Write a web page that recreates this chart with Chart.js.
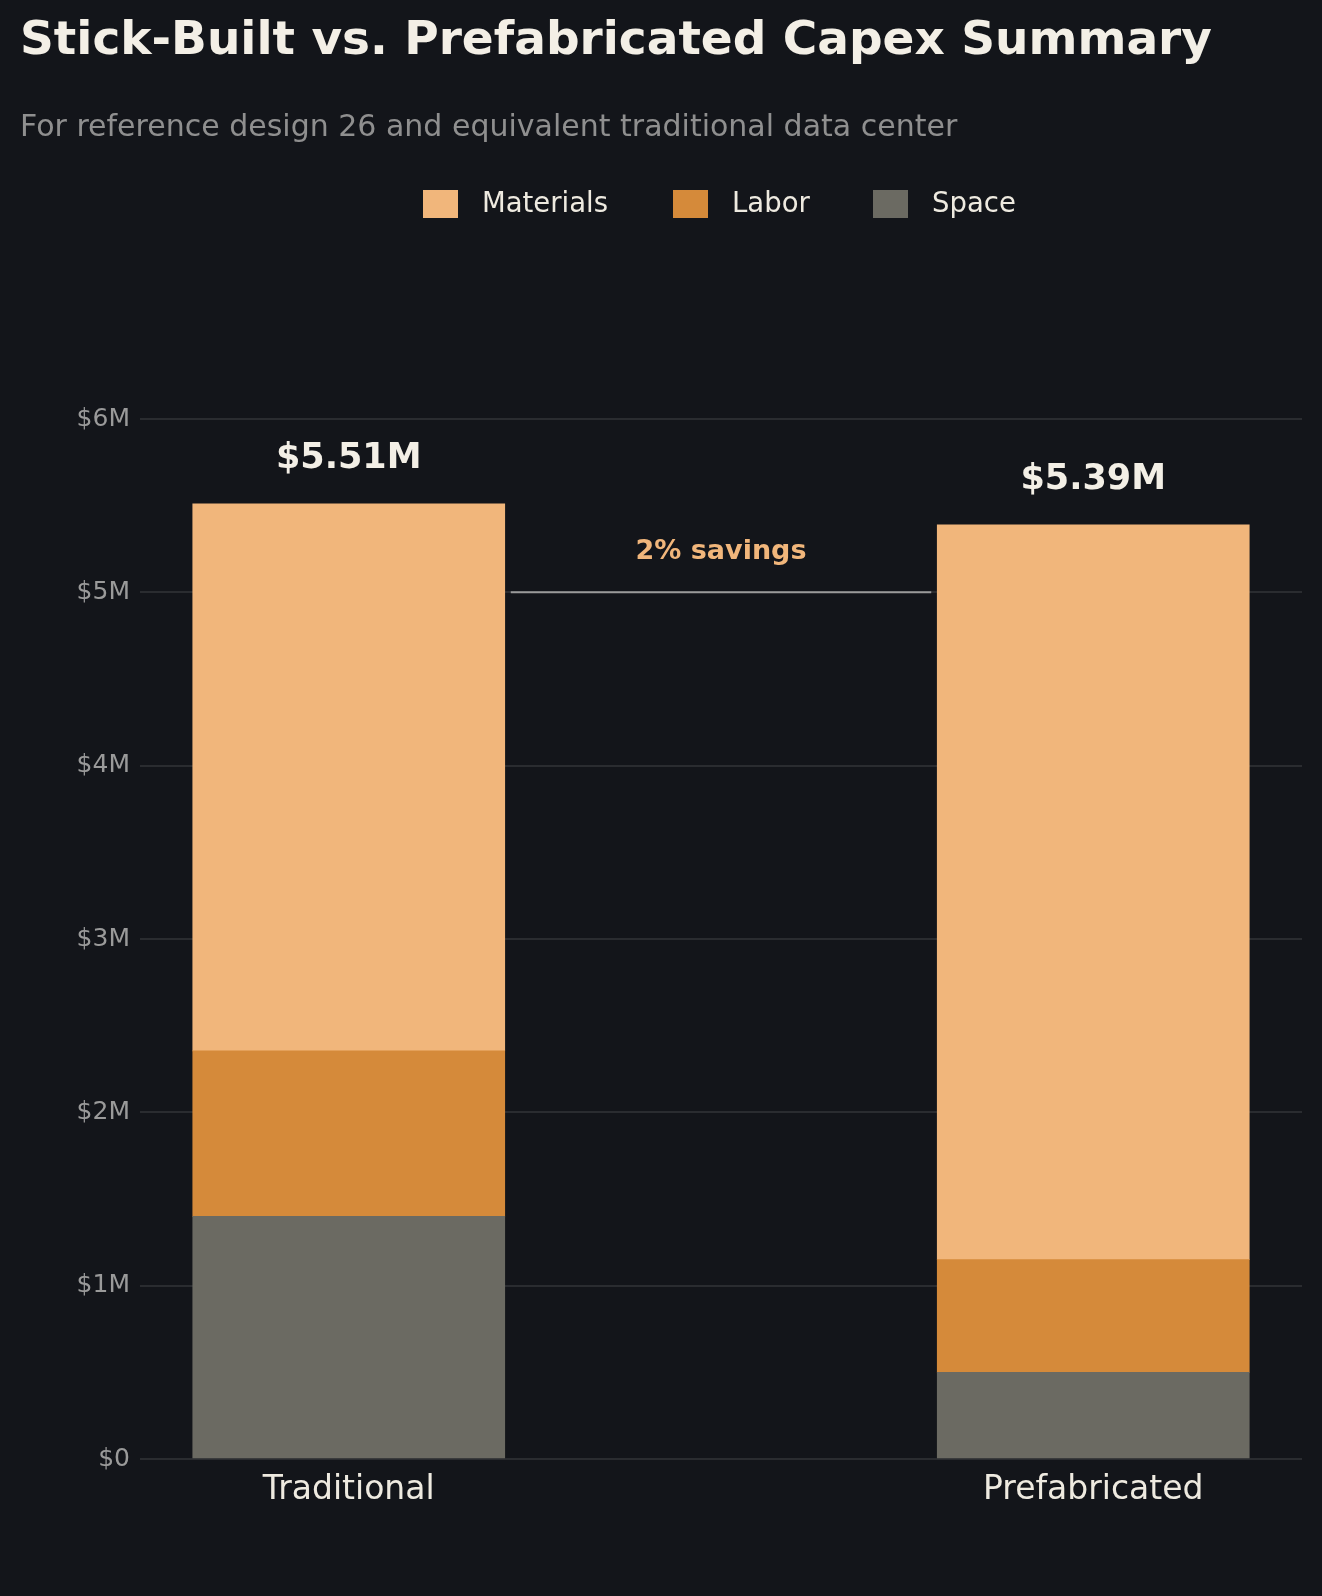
<!DOCTYPE html>
<html>
<head>
<meta charset="utf-8">
<script src="https://cdn.jsdelivr.net/npm/chart.js@4"></script>
<style>
  html, body { margin: 0; padding: 0; background: #13151a; }
  #wrap { width: 1322px; height: 1596px; position: relative; }
</style>
</head>
<body>
<div id="wrap"><canvas id="c" width="1322" height="1596"></canvas></div>
<script>
const categories = ['Traditional', 'Prefabricated'];
const spaceValues = [1.40, 0.50];
const laborValues = [0.955, 0.65];
const materialValues = [3.155, 4.24];
const totalLabels = ['$5.51M', '$5.39M'];
const yTicks = [0, 1, 2, 3, 4, 5, 6];
const savingsLabel = '2% savings';
const savingsLevel = 5;

const font = 'DejaVu Sans';
const colors = { materials: '#f1b67b', labor: '#d58a3a', space: '#6b6a62' };

function pts(values) {
  return values.map((v, i) => ({ x: i, y: v }));
}

const overlay = {
  id: 'overlay',
  beforeDraw(chart) {
    const ctx = chart.ctx;
    ctx.save();
    ctx.fillStyle = '#13151a';
    ctx.fillRect(0, 0, chart.width, chart.height);
    ctx.restore();
  },
  afterDraw(chart) {
    const ctx = chart.ctx;
    const x = chart.scales.x, y = chart.scales.y;
    ctx.save();
    // title and subtitle
    ctx.textBaseline = 'middle';
    ctx.textAlign = 'left';
    ctx.fillStyle = '#f3efe6';
    ctx.font = `bold 47px ${font}`;
    ctx.fillText('Stick-Built vs. Prefabricated Capex Summary', 20, 42);
    ctx.fillStyle = '#8f8f8f';
    ctx.font = `30px ${font}`;
    ctx.fillText('For reference design 26 and equivalent traditional data center', 20, 128);
    // legend
    const legend = [['Materials', colors.materials], ['Labor', colors.labor], ['Space', colors.space]];
    const lx = [423, 673, 873];
    ctx.font = `27.5px ${font}`;
    legend.forEach(([name, col], i) => {
      ctx.fillStyle = col;
      ctx.fillRect(lx[i], 190, 35, 28);
      ctx.fillStyle = '#eeeae0';
      ctx.fillText(name, lx[i] + 59, 205);
    });
    // totals
    ctx.textAlign = 'center';
    ctx.fillStyle = '#f3efe6';
    ctx.font = `bold 35px ${font}`;
    categories.forEach((c, i) => {
      const tot = spaceValues[i] + laborValues[i] + materialValues[i];
      ctx.fillText(totalLabels[i], x.getPixelForValue(i), y.getPixelForValue(tot) - 45);
    });
    // savings line
    const meta = chart.getDatasetMeta(0);
    const b0 = meta.data[0], b1 = meta.data[1];
    const x0 = b0.x + b0.width / 2 + 6, x1 = b1.x - b1.width / 2 - 6;
    const ly = y.getPixelForValue(savingsLevel);
    ctx.strokeStyle = '#9a9a9a';
    ctx.lineWidth = 2;
    ctx.beginPath();
    ctx.moveTo(x0, ly);
    ctx.lineTo(x1, ly);
    ctx.stroke();
    ctx.fillStyle = colors.materials;
    ctx.font = `bold 27px ${font}`;
    ctx.fillText(savingsLabel, (x0 + x1) / 2, ly - 40);
    ctx.restore();
  }
};

new Chart(document.getElementById('c'), {
  type: 'bar',
  data: {
    datasets: [
      { label: 'Space', data: pts(spaceValues), backgroundColor: colors.space },
      { label: 'Labor', data: pts(laborValues), backgroundColor: colors.labor },
      { label: 'Materials', data: pts(materialValues), backgroundColor: colors.materials }
    ]
  },
  options: {
    responsive: false,
    animation: false,
    devicePixelRatio: 1,
    layout: { padding: { top: 419, right: 20, bottom: 57, left: 0 } },
    datasets: { bar: { barThickness: 312 } },
    plugins: { legend: { display: false }, title: { display: false }, tooltip: { enabled: false } },
    scales: {
      x: {
        type: 'linear',
        stacked: true,
        offset: false,
        min: -0.2804,
        max: 1.2804,
        afterBuildTicks(s) { s.ticks = categories.map((c, i) => ({ value: i })); },
        afterFit(s) { s.height = 80; },
        grid: { display: false },
        border: { display: false },
        ticks: {
          color: '#eeeae0',
          font: { family: font, size: 33 },
          padding: 4,
          callback: (v) => categories[v] ?? ''
        }
      },
      y: {
        stacked: true,
        min: 0,
        max: 6,
        afterBuildTicks(s) { s.ticks = yTicks.map(v => ({ value: v })); },
        afterFit(s) { s.width = 140; },
        grid: { color: '#2a2c30', lineWidth: 2, drawTicks: false },
        border: { display: false },
        ticks: {
          color: '#9a9a9a',
          font: { family: font, size: 25 },
          padding: 10,
          callback: (v) => v === 0 ? '$0' : `$${v}M`
        }
      }
    }
  },
  plugins: [overlay]
});
</script>
</body>
</html>
